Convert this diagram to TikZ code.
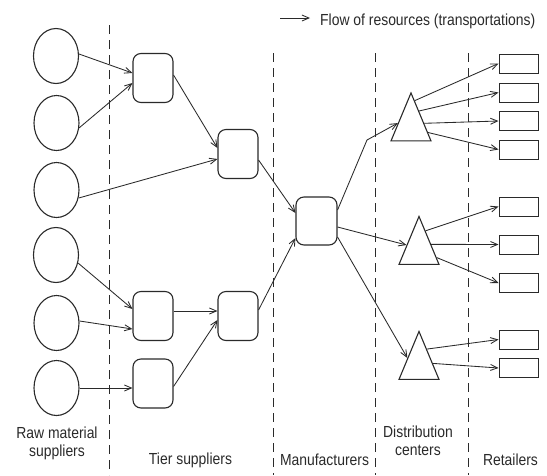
\documentclass[tikz,border=0pt]{standalone}
\usepackage{fontspec}
\setmainfont{Liberation Sans}[FakeStretch=0.87]
\usetikzlibrary{arrows.meta,shapes.geometric}
\definecolor{ink}{HTML}{2A2A2A}
\begin{document}
\begin{tikzpicture}[x=1pt,y=-1pt,
  sup/.style={ellipse, draw=ink, line width=1.1pt, minimum width=45pt, minimum height=55pt, inner sep=0pt},
  tier/.style={rectangle, rounded corners=8pt, draw=ink, line width=1.1pt, minimum width=40pt, minimum height=49pt, inner sep=0pt},
  dc/.style={isosceles triangle, isosceles triangle stretches, shape border rotate=90, draw=ink, line width=1.1pt, minimum width=40pt, minimum height=48pt, inner sep=0pt, anchor=apex},
  ret/.style={rectangle, draw=ink, line width=1pt, minimum width=39pt, minimum height=19pt, inner sep=0pt},
  flow/.style={draw=ink, line width=0.85pt, -{Straight Barb[length=7pt,width=6pt]}},
  sepline/.style={draw=ink, line width=0.8pt, dash pattern=on 9pt off 6pt},
  lbl/.style={font=\fontsize{16}{18}\selectfont, text=ink, align=center, inner sep=0pt}]
\useasboundingbox (0,0) rectangle (547,475);
\fill[white] (0,0) rectangle (547,475);

% separators
\draw[sepline] (109,25) -- (109,475);
\draw[sepline] (273,53) -- (273,475);
\draw[sepline] (375,53) -- (375,475);
\draw[sepline] (468,53) -- (468,475);

% raw material suppliers
\node[sup] (c1) at (56,56) {};
\node[sup] (c2) at (56.5,123) {};
\node[sup] (c3) at (56.5,190) {};
\node[sup] (c4) at (56,255) {};
\node[sup] (c5) at (56.5,323) {};
\node[sup] (c6) at (56.5,388) {};

% tier suppliers
\node[tier] (A) at (153,78) {};
\node[tier] (B) at (238,154) {};
\node[tier] (C) at (153,316) {};
\node[tier] (D) at (153,383.5) {};
\node[tier] (E) at (238,316) {};

% manufacturer
\node[tier, minimum width=41pt, minimum height=48pt] (M) at (316.5,221) {};

% distribution centers (placed by their apex)
\node[dc] (T1) at (411,91.5) {};
\node[dc] (T2) at (419,215) {};
\node[dc] (T3) at (419,330) {};

% retailers
\node[ret] (R1) at (518.5,63.5) {};
\node[ret] (R2) at (518.5,92.5) {};
\node[ret] (R3) at (518.5,121) {};
\node[ret] (R4) at (518.5,149.5) {};
\node[ret] (R5) at (518.5,206.5) {};
\node[ret] (R6) at (518.5,244.5) {};
\node[ret] (R7) at (518.5,283) {};
\node[ret] (R8) at (518.5,339.5) {};
\node[ret] (R9) at (518.5,368) {};

% flows
\draw[flow] (c1.5) -- ([yshift=5pt]A.west);
\draw[flow] (c2.-12) -- ([yshift=-5pt]A.west);
\draw[flow] (c3.-20) -- ([yshift=-5pt]B.west);
\draw[flow] ([yshift=3pt]A.east) -- ([yshift=6pt]B.west);
\draw[flow] ([yshift=-6pt]B.east) -- ([yshift=8pt]M.west);
\draw[flow] (c4.-20) -- ([yshift=7pt]C.west);
\draw[flow] (c5.5) -- ([yshift=-13pt]C.west);
\draw[flow] (c6.east) -- (c6.east -| D.west);
\draw[flow] ([yshift=5pt]C.east) -- ([yshift=5pt]E.west);
\draw[flow] ([yshift=-3pt]D.east) -- ([yshift=-4pt]E.west);
\draw[flow] ([yshift=6pt]E.east) -- ([yshift=-17pt]M.west);
\coordinate (k1) at (367,140);
\draw[flow] ([yshift=11pt]M.east) -- (k1) -- (T1.161.7);
\draw[flow] ([yshift=-6pt]M.east) -- (T2.154.8);
\draw[flow] ([yshift=-16pt]M.east) -- (T3.145.6);
\draw[flow] (T1.82.4) -- (R1.west);
\draw[flow] (T1.64.6) -- (R2.west);
\draw[flow] (T1.18.3) -- (R3.west);
\draw[flow] (T1.-16.2) -- (R4.west);
\draw[flow] (T2.72.4) -- (R5.west);
\draw[flow] (T2.29.8) -- (R6.west);
\draw[flow] (T2.-20.2) -- (R7.west);
\draw[flow] (T3.65.8) -- (R8.west);
\draw[flow] (T3.11.5) -- (R9.west);

% legend
\coordinate (la) at (280,18);
\coordinate (lb) at (310,18);
\draw[flow] (la) -- (lb);
\node[lbl, anchor=base west] (leg) at (320,25.7) {Flow of resources (transportations)};

% labels
\node[lbl, anchor=base] (l1) at (57,456) {Raw material\\suppliers};
\node[lbl, anchor=base] (l2) at (190.5,464.5) {Tier suppliers};
\node[lbl, anchor=base] (l3) at (324.5,465) {Manufacturers};
\node[lbl, anchor=base] (l4) at (418,455) {Distribution\\centers};
\node[lbl, anchor=base] (l5) at (510.5,465) {Retailers};
\end{tikzpicture}
\end{document}
